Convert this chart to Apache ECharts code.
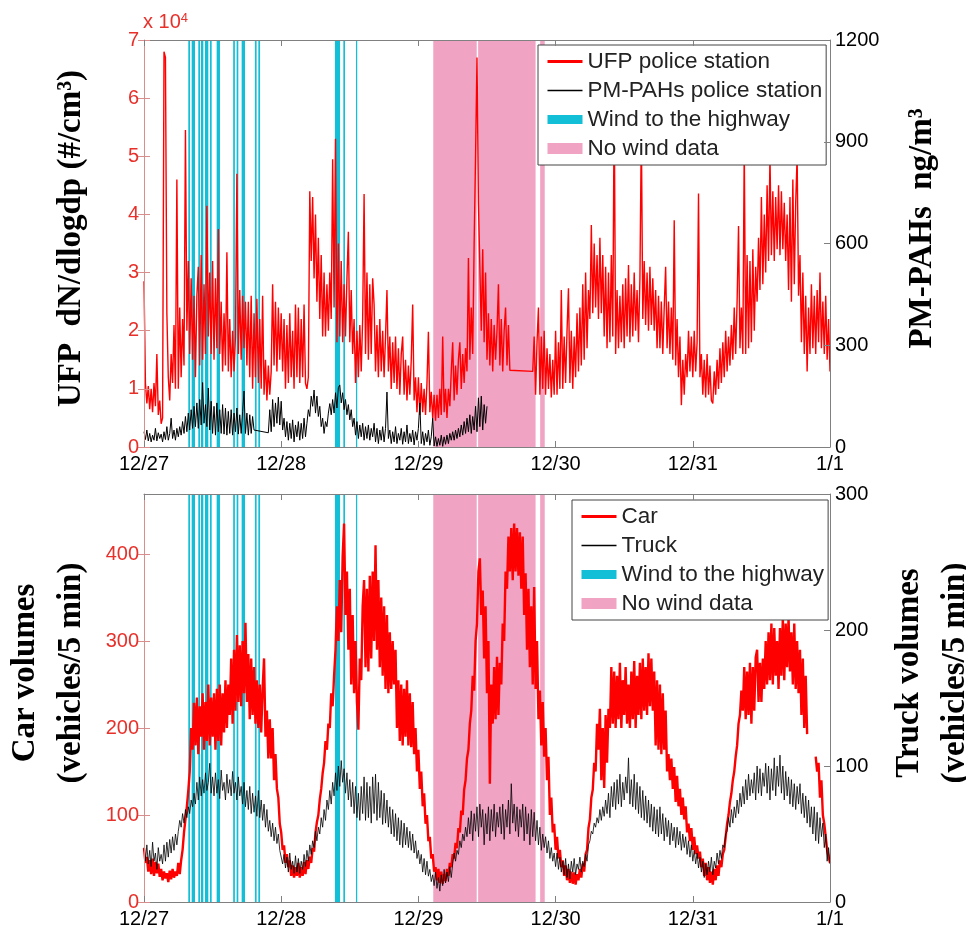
<!DOCTYPE html>
<html><head><meta charset="utf-8">
<script src="https://cdn.jsdelivr.net/npm/echarts@6/dist/echarts.min.js"></script>
<style>html,body{margin:0;padding:0;background:#fff}#c{width:966px;height:929px}</style>
</head><body><div id="c"></div>
<script>
// x axis: hours since 12/27 00:00, samples every 15 min
const tickLabels = ['12/27','12/28','12/29','12/30','12/31','1/1'];
const carTicks = [0,100,200,300,400];
const STEP_H = 0.25;

// UFP police station (x 10^4 #/cm3), one row = 3 hours
const ufp = [
 2.85,1.1,0.75,1.05,0.65,1.0,0.6,1.1,0.7,1.6,0.55,0.8,
 0.4,0.5,6.8,6.7,2.3,1.2,0.8,1.6,1.1,2.1,1.0,4.6,
 1.0,2.4,1.2,2.2,1.4,5.45,2.0,3.2,1.6,2.9,1.5,2.6,
 1.2,2.6,3.1,1.4,3.3,1.5,2.8,1.6,4.15,1.9,3.0,1.6,
 3.2,1.5,2.9,1.7,3.75,1.6,2.5,1.3,2.3,1.4,3.35,1.3,
 2.2,1.2,2.0,1.3,1.9,4.7,1.6,2.7,1.5,2.6,1.7,2.5,
 1.4,2.5,1.2,2.6,1.0,2.3,1.2,2.55,1.1,2.2,1.0,2.6,
 0.9,1.5,0.8,1.4,0.9,1.3,2.8,1.4,2.5,1.3,2.4,1.5,
 2.3,1.3,2.2,1.0,2.1,1.1,2.3,1.2,2.0,1.0,2.45,1.2,
 2.4,1.1,2.2,1.2,2.45,1.1,1.0,1.2,4.4,3.2,4.3,2.9,
 4.0,2.5,3.6,2.2,3.3,1.9,3.0,1.9,2.8,2.0,3.0,2.2,
 4.95,2.4,5.3,1.8,3.5,1.9,3.2,1.8,2.8,1.9,2.9,3.7,
 1.8,2.7,1.6,2.2,1.1,2.0,1.2,2.1,1.3,2.2,4.35,1.6,
 3.0,1.5,2.8,1.6,2.9,2.45,1.3,2.1,1.2,2.2,1.3,2.0,
 1.2,1.9,2.7,1.3,1.9,1.0,1.8,1.1,1.9,1.0,1.7,0.9,
 1.6,1.9,0.9,1.5,0.8,1.4,0.9,1.5,2.45,0.8,1.2,0.6,
 1.2,0.55,1.1,0.6,1.0,0.55,1.1,1.98,0.6,0.95,0.5,0.9,
 0.45,0.9,0.5,1.0,0.55,1.9,0.6,1.0,0.5,1.0,0.7,1.3,
 1.8,0.8,1.4,0.9,1.5,1.8,1.0,1.6,1.1,1.7,1.3,3.25,
 1.5,2.4,1.6,3.5,5.0,6.7,4.2,3.1,2.0,3.4,1.8,3.0,
 1.5,2.3,1.4,2.2,1.3,2.1,1.5,2.0,2.8,1.4,2.2,1.3,
 2.0,2.4,1.4,2.1,1.32,null,null,null,null,null,null,null,
 null,null,null,null,null,null,null,null,1.3,1.9,0.9,1.8,
 2.4,0.9,1.9,1.0,2.0,0.9,1.7,1.0,1.6,0.85,1.5,0.9,
 2.0,0.9,1.8,1.0,2.7,1.0,1.9,1.1,2.0,2.73,1.1,2.0,
 1.0,1.9,1.2,2.3,1.3,2.4,1.4,2.8,1.5,3.0,1.7,2.7,
 2.2,3.82,2.3,3.5,2.4,3.3,2.2,3.6,2.3,3.3,1.9,3.1,
 1.7,3.0,1.8,3.3,1.9,6.0,1.6,2.7,1.7,2.6,1.8,2.8,
 1.7,2.9,1.9,3.13,1.8,2.8,1.9,3.0,2.0,2.7,1.8,2.9,
 5.5,2.2,3.2,2.1,3.0,2.0,3.1,2.1,2.9,2.0,2.7,1.7,
 2.6,1.7,2.5,1.6,2.4,3.1,1.7,2.5,1.6,2.4,1.5,3.9,
 1.4,2.2,1.2,1.9,0.72,1.5,0.9,1.6,1.2,2.0,1.3,1.9,
 1.2,2.0,1.3,1.8,4.36,1.2,1.6,0.9,1.5,0.85,1.6,0.9,
 1.4,0.8,0.75,1.3,0.9,1.5,1.0,1.7,1.1,1.8,1.2,2.0,
 1.3,1.9,1.4,2.1,1.5,2.4,1.6,2.5,3.8,1.7,2.4,1.6,
 5.2,1.6,3.3,1.7,3.2,1.8,3.4,2.0,3.1,2.5,3.6,2.7,
 4.3,2.8,4.0,3.0,4.5,3.2,5.0,3.3,4.4,3.2,4.3,3.4,
 4.5,3.3,4.4,3.4,4.2,3.2,4.0,2.7,4.3,2.5,4.6,2.8,
 4.2,5.0,2.6,3.3,1.8,3.0,1.6,2.6,1.3,2.4,1.6,2.8,
 1.7,2.6,1.6,2.7,1.8,3.0,1.7,2.5,1.6,2.6,1.5,2.2,
 1.3
];

// PM-PAHs police station (ng/m3), ends at 12/29 12:00
const pah = [
 45,22,50,18,40,15,35,20,55,18,42,25,
 38,15,45,22,60,20,40,85,25,50,20,55,
 30,60,35,75,40,90,45,100,50,110,55,120,
 60,130,55,140,65,190,70,125,60,174,50,135,
 40,120,35,130,45,110,40,125,38,115,35,105,
 40,110,35,100,45,115,38,95,40,105,165,40,
 100,35,95,40,90,50,null,null,null,null,null,null,
 null,null,null,42,110,45,140,60,130,70,147,65,
 135,50,85,30,75,20,70,25,80,15,65,30,
 75,20,70,25,85,30,70,110,90,150,120,168,
 100,150,90,120,60,85,40,75,60,100,128,95,
 140,100,160,115,175,183,130,160,110,140,95,125,
 80,110,60,85,35,75,25,65,30,70,20,60,
 25,65,20,55,30,70,15,55,10,50,20,60,
 15,55,162,25,50,10,45,15,60,10,40,20,
 55,8,45,15,65,10,40,15,50,6,45,20,
 55,130,10,45,5,40,15,50,5,30,85,3,
 30,2,25,5,35,2,30,8,35,10,40,20,
 45,20,50,25,55,30,65,35,75,40,85,45,
 95,40,90,50,120,45,145,60,150,50,125,70,
 120
];

// Car volumes (vehicles/5 min)
const car = [
 62,45,52,35,48,32,50,30,46,33,44,29,
 38,25,35,27,33,23,36,26,38,28,35,30,
 45,32,48,60,80,95,110,128,150,200,175,229,
 180,235,170,225,190,240,175,230,185,250,180,235,
 190,240,175,245,185,250,180,240,195,255,200,250,
 215,280,205,290,220,307,230,295,225,300,240,321,
 230,285,210,280,215,270,205,255,200,250,195,245,
 280,190,220,165,210,165,200,140,170,130,120,90,
 80,60,65,45,55,40,48,30,42,28,40,30,
 45,28,40,30,46,32,48,38,52,45,62,58,
 80,92,100,118,130,148,160,185,175,205,200,240,
 225,260,290,340,300,370,310,397,435,330,380,290,
 360,250,330,240,300,230,198,280,255,340,370,270,
 360,265,375,280,380,300,410,290,370,270,350,260,
 340,245,330,240,310,245,300,250,290,200,255,185,
 250,180,245,190,255,180,240,178,230,170,200,150,
 175,130,150,110,125,90,100,70,75,50,55,35,
 40,25,38,22,35,21,32,24,38,30,45,40,
 55,50,68,62,85,80,105,100,129,140,165,175,
 205,220,260,243,300,320,380,395,330,358,280,340,
 240,300,136,250,205,270,210,282,215,275,250,320,
 300,380,360,420,380,430,370,435,380,430,375,425,
 360,420,330,378,290,360,270,340,250,362,245,300,
 210,243,180,230,167,200,140,167,100,120,80,90,
 60,75,50,60,40,48,30,42,25,38,22,35,
 21,34,20,32,25,38,28,44,35,55,60,85,
 95,120,129,160,150,205,175,222,140,200,131,215,
 160,222,200,270,205,265,200,260,210,275,200,255,
 215,270,205,250,200,265,210,277,200,260,215,275,
 210,280,220,270,215,286,225,280,220,265,180,255,
 175,250,170,240,175,220,150,170,140,165,130,155,
 115,145,110,130,100,120,95,110,80,90,70,85,
 60,75,55,65,50,58,40,50,30,45,25,40,
 22,35,20,38,25,42,30,48,40,55,60,75,
 90,100,115,125,140,150,167,180,205,215,243,220,
 270,210,265,215,275,205,270,220,281,290,230,275,
 230,280,245,300,250,310,255,320,250,315,260,300,
 245,315,260,327,255,320,270,327,265,310,250,320,
 245,300,240,290,215,280,200,260,193,null,null,null,
 null,null,167,150,160,120,140,100,90,75,60,52,
 45
];

// Truck volumes (vehicles/5 min)
const truck = [
 40,30,42,28,38,26,44,30,36,24,40,30,
 35,28,42,30,44,33,46,36,48,38,50,42,
 52,60,55,65,58,68,62,70,65,75,70,80,
 72,88,75,92,78,90,80,95,82,88,102,80,
 92,78,95,80,90,76,97,82,88,75,94,80,
 90,78,96,80,88,75,92,78,85,72,88,70,
 82,68,85,65,80,66,78,63,82,62,75,60,
 72,55,68,52,60,48,58,45,55,43,50,38,
 38,28,35,25,33,22,36,24,30,21,34,22,
 32,21,30,24,35,26,38,30,42,35,45,40,
 52,45,55,50,62,55,68,60,75,68,82,72,
 88,78,95,82,100,85,104,88,98,80,95,75,
 90,70,88,65,85,62,80,60,85,65,92,60,
 88,62,85,58,92,65,94,60,88,62,82,57,
 80,58,75,55,70,50,68,48,65,45,62,42,
 60,40,58,42,55,40,52,38,50,36,45,32,
 38,28,35,22,32,20,30,19,24,15,20,12,
 22,10,18,8,20,12,24,14,22,15,26,18,
 28,36,30,38,35,45,40,50,45,55,48,62,
 50,67,45,65,52,70,48,72,55,68,42,65,
 50,70,45,68,52,72,48,66,55,70,50,72,
 46,68,55,75,50,87,58,72,52,70,48,68,
 55,72,45,70,50,65,42,68,48,66,45,60,
 42,55,38,50,40,48,36,45,32,40,30,36,
 26,36,24,33,22,30,20,32,18,28,17,30,
 22,32,20,28,24,33,22,30,26,35,30,42,
 45,52,50,58,55,62,58,68,60,70,63,75,
 65,80,62,85,70,88,68,90,72,94,70,88,
 75,92,80,106,72,90,70,94,68,88,65,85,
 62,82,60,78,58,75,55,72,52,70,50,68,
 48,70,50,65,45,62,48,60,42,58,45,55,
 40,55,42,52,38,50,40,48,35,45,33,42,
 30,38,28,36,25,33,22,30,18,28,20,30,
 22,33,20,30,25,36,28,38,32,42,40,50,
 52,62,55,68,58,70,62,75,65,80,70,85,
 72,90,75,94,78,90,80,95,75,100,80,98,
 78,95,85,102,80,100,75,98,82,106,78,100,
 85,108,80,100,75,96,78,92,72,90,70,87,
 68,85,72,87,65,80,62,78,58,75,55,70,
 50,70,45,66,43,62,48,58,40,50,30,40,
 28
];

// periods (hours since 12/27 00:00)
const windBands = [[7.75,8.05],[8.34,8.92],[9.5,9.8],[9.97,10.38],[10.67,11.25],[11.54,11.84],
  [12.71,13.29],[15.6,15.9],[16.2,16.5],[17.08,17.67],[19.4,19.7],[20.0,20.3],
  [33.4,34.3],[34.87,35.16],[37.08,37.3]];
const noWindBands = [[50.6,58.2],[58.45,68.5],[69.3,70.1]];

const RED='#ff0000', CYAN='#12bfd6', PINK='#f0a3c3', AX='#808080', AXRED='#d98e8e', LBLRED='#e8302a';
const tickFont = {fontFamily:'Liberation Sans, Arial, sans-serif', fontSize:20};
const nameFont = {fontFamily:'Liberation Serif, Times New Roman, serif', fontWeight:'bold', fontSize:33, color:'#000'};
const toPairs = arr => arr.map((v,i)=>[i*STEP_H, v]);
const bands = b => b.map(p=>[{xAxis:p[0]},{xAxis:p[1]}]);

function xAx(grid, pos, labels){
  return {type:'value', gridIndex:grid, position:pos, min:0, max:120, interval:24, z:10,
    axisLine:{show:true, onZero:false, lineStyle:{color:AX}},
    axisTick:{show:true, inside:true, length:6, lineStyle:{color:AX}},
    axisLabel:{show:labels, margin:7, color:'#000', ...tickFont, formatter:v=>tickLabels[Math.round(v/24)]},
    splitLine:{show:false}};
}
function yAx(grid, pos, max, interval, o){
  return Object.assign({type:'value', gridIndex:grid, position:pos, offset:0, min:0, max:max, interval:interval, z:10,
    axisLine:{show:true, onZero:false, lineStyle:{color:AX}},
    axisTick:{show:true, inside:true, length:6, lineStyle:{color:AX}},
    axisLabel:{show:true, margin:5, color:'#000', ...tickFont, formatter:v=>String(v)},
    splitLine:{show:false}}, o);
}

const legendBase = {orient:'vertical', padding:[5,4,5,4], itemGap:6, itemWidth:35, itemHeight:14,
  backgroundColor:'#fff', borderColor:'#444', borderWidth:1, selectedMode:false,
  textStyle:{fontFamily:'Liberation Sans, Arial, sans-serif', fontSize:22.5, color:'#222', lineHeight:23},
  itemStyle:{opacity:0}};

function areaSeries(name, color, xi, yi, b){
  return {name:name, type:'line', xAxisIndex:xi, yAxisIndex:yi, data:[], symbol:'none',
    itemStyle:{color:color}, lineStyle:{color:color},
    markArea:{silent:true, z:1, itemStyle:{color:color, opacity:1, borderWidth:0}, data:bands(b)}};
}

const option = {
  animation:false,
  backgroundColor:'#fff',
  grid:[{left:144, top:40, width:686, height:407, outerBoundsMode:'none', containLabel:false},
        {left:144, top:494, width:686, height:408, outerBoundsMode:'none', containLabel:false}],
  xAxis:[xAx(0,'bottom',true), xAx(0,'top',false), xAx(1,'bottom',true), xAx(1,'top',false)],
  yAxis:[
    yAx(0,'left',7,1,{axisLine:{show:true,onZero:false,lineStyle:{color:AXRED}}, axisTick:{show:true,inside:true,length:6,lineStyle:{color:AXRED}},
      axisLabel:{show:true, margin:5, color:LBLRED, ...tickFont},
      name:'UFP  dN/dlogdp (#/cm³)', nameLocation:'middle', nameRotate:90, nameGap:56,
      nameTextStyle:Object.assign({padding:[0,0,0,10]}, nameFont)}),
    yAx(0,'right',1200,300,{name:'PM-PAHs  ng/m³', nameLocation:'middle', nameRotate:90, nameGap:76,
      nameTextStyle:Object.assign({padding:[0,0,0,30]}, nameFont)}),
    yAx(0,'right',7,1,{axisLine:{show:false}, axisLabel:{show:false}, axisTick:{show:true,inside:true,length:6,lineStyle:{color:AXRED}}}),
    yAx(1,'left',469,100,{axisLine:{show:true,onZero:false,lineStyle:{color:AXRED}},
      axisTick:{show:true,inside:true,length:6,customValues:carTicks,lineStyle:{color:AXRED}},
      axisLabel:{show:true, margin:5, color:LBLRED, customValues:carTicks, ...tickFont},
      name:'Car volumes\n(vehicles/5 min)', nameLocation:'middle', nameRotate:90, nameGap:49,
      nameTextStyle:Object.assign({lineHeight:46, padding:[0,0,0,50]}, nameFont)}),
    yAx(1,'right',300,100,{name:'Truck volumes\n(vehicles/5 min)', nameLocation:'middle', nameRotate:90, nameGap:56,
      nameTextStyle:Object.assign({lineHeight:46, padding:[0,0,0,50]}, nameFont)}),
    yAx(1,'right',469,100,{axisLine:{show:false}, axisLabel:{show:false},
      axisTick:{show:true,inside:true,length:6,customValues:carTicks,lineStyle:{color:AXRED}}})
  ],
  legend:[
    Object.assign({left:538, top:45, data:[
      {name:'UFP police station', lineStyle:{width:3}},
      {name:'PM-PAHs police station', lineStyle:{width:1.5}},
      {name:'Wind to the highway', lineStyle:{width:9}},
      {name:'No wind data', lineStyle:{width:11}}]}, legendBase),
    Object.assign({left:572, top:500, data:[
      {name:'Car', lineStyle:{width:3}},
      {name:'Truck', lineStyle:{width:1.5}},
      {name:'Wind to the highway', lineStyle:{width:9}},
      {name:'No wind data', lineStyle:{width:11}}]}, legendBase)
  ],
  graphic:[{type:'text', left:143, top:12, z:20, style:{text:'{a|x 10}{b|4}',
    rich:{a:{fontSize:20, fontFamily:'Liberation Sans, Arial, sans-serif', fill:LBLRED},
          b:{fontSize:13, fontFamily:'Liberation Sans, Arial, sans-serif', fill:LBLRED, verticalAlign:'top'}}}}],
  series:[
    areaSeries('Wind to the highway', CYAN, 0, 0, windBands),
    areaSeries('No wind data', PINK, 0, 0, noWindBands),
    {name:'UFP police station', type:'line', xAxisIndex:0, yAxisIndex:0, data:toPairs(ufp), symbol:'none', connectNulls:true,
      z:3, itemStyle:{color:RED}, lineStyle:{color:RED, width:1.4}},
    {name:'PM-PAHs police station', type:'line', xAxisIndex:0, yAxisIndex:1, data:toPairs(pah), symbol:'none', connectNulls:true,
      z:3, itemStyle:{color:'#000'}, lineStyle:{color:'#000', width:1}},
    areaSeries('Wind to the highway', CYAN, 2, 3, windBands),
    areaSeries('No wind data', PINK, 2, 3, noWindBands),
    {name:'Car', type:'line', xAxisIndex:2, yAxisIndex:3, data:toPairs(car), symbol:'none', connectNulls:false,
      z:3, itemStyle:{color:RED}, lineStyle:{color:RED, width:2.4}},
    {name:'Truck', type:'line', xAxisIndex:2, yAxisIndex:4, data:toPairs(truck), symbol:'none', connectNulls:false,
      z:3, itemStyle:{color:'#000'}, lineStyle:{color:'#000', width:0.8}}
  ]
};
echarts.init(document.getElementById('c')).setOption(option);
</script>
</body></html>
